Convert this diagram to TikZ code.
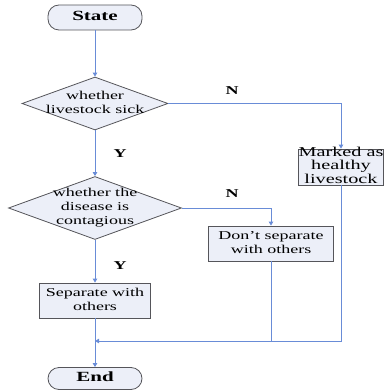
\documentclass[tikz,border=0pt]{standalone}
\usepackage{fontspec}
\setmainfont{Liberation Serif}
\usetikzlibrary{shapes.geometric,arrows.meta}
\definecolor{lineblue}{RGB}{105,140,215}
\definecolor{boxfill}{RGB}{236,239,248}
\definecolor{boxdraw}{RGB}{85,85,90}
\newcommand\sx[1]{\scalebox{1.5}[1]{\begin{tabular}{@{}c@{}}#1\end{tabular}}}
\begin{document}
\begin{tikzpicture}[x=1pt,y=-1pt,
  shapebox/.style={draw=boxdraw,fill=boxfill,line width=0.8pt,inner sep=0pt},
  term/.style={shapebox,rectangle,rounded corners=11pt},
  proc/.style={shapebox,rectangle},
  decision/.style={shapebox,diamond},
  txt/.style={inner sep=0pt,font=\fontsize{12}{14}\selectfont},
  lbl/.style={inner sep=0pt,font=\fontsize{12}{14}\selectfont\bfseries},
  conn/.style={draw=lineblue,line width=0.9pt},
  arr/.style={conn,-{Triangle[length=4pt,width=4.5pt]}}]
\useasboundingbox (0,0) rectangle (384,390);
% shapes
\node[term,minimum width=94pt,minimum height=25pt] (start) at (95,17.5) {};
\node[decision,minimum width=146pt,minimum height=53pt] (d1) at (95,103.5) {};
\node[proc,minimum width=85pt,minimum height=36pt] (marked) at (341,167) {};
\node[decision,minimum width=173pt,minimum height=63pt] (d2) at (95,208) {};
\node[proc,minimum width=125pt,minimum height=35pt] (dont) at (271,243.5) {};
\node[proc,minimum width=111pt,minimum height=35pt] (sep) at (95,300.5) {};
\node[term,minimum width=94pt,minimum height=22pt] (end) at (95,378.5) {};
% texts
\node[txt,font=\fontsize{14}{16}\selectfont\bfseries] (tstart) at (start.center) {\sx{State}};
\node[txt] (td1) at (d1.center) {\sx{whether\\livestock sick}};
\node[txt,font=\fontsize{13.5}{13.5}\selectfont] (tmarked) at (marked.center) {\sx{Marked as\\healthy\\livestock}};
\node[txt] (td2) at (d2.center) {\sx{whether the\\disease is\\contagious}};
\node[txt] (tdont) at (dont.center) {\sx{Don't separate\\with others}};
\node[txt] (tsep) at (sep.center) {\sx{Separate with\\others}};
\node[txt,font=\fontsize{14}{16}\selectfont\bfseries] (tend) at (end.center) {\sx{End}};
% connectors
\coordinate (m) at (95,341);
\draw[arr] (start) -- (d1);
\draw[arr] (d1.east) -| (marked.north);
\draw[arr] (d1) -- (d2);
\draw[arr] (d2.east) -| (dont.north);
\draw[arr] (d2) -- (sep);
\draw[arr] (sep) -- (end);
\draw[arr] (marked.south) |- (m);
\draw[conn] (dont.south) -- (dont.south |- m);
% labels
\node[lbl] (n1) at (232,92) {\sx{N}};
\node[lbl] (y1) at (120,155) {\sx{Y}};
\node[lbl] (n2) at (232,195) {\sx{N}};
\node[lbl] (y2) at (120,267) {\sx{Y}};
\end{tikzpicture}
\end{document}
